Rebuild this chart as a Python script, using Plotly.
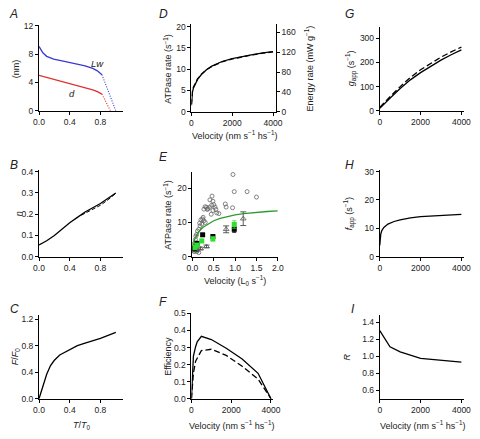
import plotly.graph_objects as go

W, H = 480, 439

# ---------------- data ----------------
# A
a_x_lw = [0.0, 0.05, 0.1, 0.19, 0.3, 0.4, 0.5, 0.6, 0.7, 0.76, 0.82]
a_lw = [9.1, 8.2, 7.7, 7.3, 7.05, 6.85, 6.6, 6.35, 6.0, 5.65, 5.1]
a_x_lw_dot = [0.82, 1.0]
a_lw_dot = [5.1, 0.0]
a_x_d = [0.0, 0.1, 0.2, 0.3, 0.4, 0.5, 0.6, 0.7, 0.76, 0.82]
a_d = [5.0, 4.7, 4.4, 4.1, 3.85, 3.6, 3.3, 2.95, 2.7, 2.35]
a_x_d_dot = [0.82, 0.93]
a_d_dot = [2.35, 0.0]

# B
b_x = [0.0, 0.1, 0.2, 0.3, 0.4, 0.5, 0.6, 0.7, 0.8, 0.9, 1.0]
b_n = [0.055, 0.075, 0.1, 0.13, 0.16, 0.185, 0.21, 0.23, 0.25, 0.275, 0.30]
b_x_dash = [0.55, 0.6, 0.7, 0.8, 0.9, 1.0]
b_n_dash = [0.195, 0.205, 0.222, 0.242, 0.268, 0.298]

# C
c_t = [0.0, 0.05, 0.1, 0.15, 0.2, 0.27, 0.4, 0.5, 0.6, 0.8, 1.0]
c_f = [0.0, 0.2, 0.37, 0.5, 0.58, 0.66, 0.74, 0.8, 0.84, 0.91, 1.0]

# D
d_v = [0, 25, 50, 100, 200, 300, 500, 750, 1000, 1500, 2000, 2500, 3000, 3500, 4000]
d_atp = [1.5, 3.5, 4.6, 5.6, 6.8, 7.6, 8.8, 9.9, 10.7, 11.8, 12.5, 13.0, 13.4, 13.8, 14.1]
d_atp_dash = [1.8, 3.8, 4.9, 5.8, 6.9, 7.7, 8.9, 9.9, 10.6, 11.7, 12.4, 12.95, 13.35, 13.75, 14.05]

# E
e_x_model = [0, 0.02, 0.05, 0.1, 0.18, 0.26, 0.4, 0.5, 0.65, 0.8, 1.0, 1.2, 1.5, 1.75, 2.0]
e_y_model = [1.5, 3.5, 5.0, 6.3, 7.8, 8.7, 9.9, 10.5, 11.2, 11.7, 12.2, 12.6, 13.0, 13.2, 13.4]
e_open_x = [0.95, 0.98, 1.28, 1.50, 0.94, 0.77, 0.79, 0.46, 0.41, 0.48, 0.50, 0.45, 0.40,
            0.36, 0.33, 0.30, 0.53, 0.48, 0.55, 0.57, 0.62, 0.44, 0.35, 0.27, 0.25, 0.24,
            0.27, 0.30, 0.22, 0.18, 0.15, 0.12, 0.10, 0.08, 0.07, 0.05, 0.03, 0.06, 0.08,
            0.10, 0.13, 0.04, 0.15, 0.02, 0.20, 0.17]
e_open_y = [24.0, 19.0, 19.0, 17.4, 14.3, 15.4, 14.5, 17.7, 16.6, 16.2, 15.2, 15.0, 14.4,
            14.0, 14.4, 14.6, 14.5, 13.5, 13.8, 12.8, 12.6, 12.4, 13.8, 13.9, 11.5, 11.0,
            10.5, 10.0, 9.5, 9.0, 8.0, 7.5, 6.5, 6.0, 5.0, 4.0, 3.0, 2.5, 2.0,
            1.5, 2.0, 1.5, 1.2, 2.0, 10.8, 9.8]
e_tri_x = [0.79, 1.19, 0.33, 0.19, 0.08]
e_tri_y = [8.0, 11.1, 3.0, 2.4, 1.8]
e_tri_err = [1.0, 2.0, 0.4, 0.4, 0.3]
e_blk_x = [0.05, 0.11, 0.24, 0.48, 0.98]
e_blk_y = [2.5, 3.9, 6.4, 5.9, 8.0]
e_blk_err = [0.3, 0.4, 0.4, 0.5, 0.9]
e_grn_x = [0.06, 0.11, 0.22, 0.48, 0.98]
e_grn_y = [2.7, 3.4, 4.6, 5.2, 9.4]
e_grn_err = [0.3, 0.4, 0.5, 0.6, 1.1]

# F
f_v = [0, 100, 210, 290, 500, 1000, 1750, 2550, 3350, 4000]
f_eff = [0.0, 0.25, 0.305, 0.334, 0.366, 0.347, 0.296, 0.233, 0.149, 0.0]
f_v_dash = [0, 100, 210, 500, 1000, 1750, 2550, 3350, 4000]
f_eff_dash = [0.0, 0.15, 0.22, 0.282, 0.29, 0.254, 0.19, 0.115, 0.0]

# G
g_v = [0, 250, 500, 1000, 1500, 2000, 2500, 3000, 3500, 4000]
g_app = [10, 32, 52, 92, 128, 158, 185, 210, 232, 252]
g_app_dash = [14, 37, 58, 100, 138, 170, 197, 222, 244, 264]

# H
h_v = [0, 20, 50, 100, 200, 400, 700, 1000, 1500, 2000, 3000, 4000]
h_f = [4.0, 6.5, 8.0, 9.2, 10.3, 11.5, 12.4, 13.0, 13.7, 14.1, 14.6, 14.9]

# I
i_v = [0, 250, 500, 1000, 2000, 4000]
i_r = [1.30, 1.20, 1.11, 1.05, 0.975, 0.93]

# ---------------- layout helpers ----------------
def px(x):
    return x / W

def py(y):
    return 1 - y / H

TICKFONT = dict(family="Liberation Sans, Arial, sans-serif", size=8.5, color="#222")
TITLEFONT = dict(family="Liberation Sans, Arial, sans-serif", size=9, color="#222")

def axis(domain, rng, tickvals, ticktext, anchor):
    return dict(domain=domain, range=rng, tickvals=tickvals, ticktext=ticktext,
                showline=True, linecolor="black", linewidth=1, ticks="outside",
                ticklen=3, tickwidth=1, tickcolor="black", showgrid=False,
                zeroline=False, tickfont=TICKFONT, anchor=anchor, fixedrange=True)

fig = go.Figure()
layout = {}

GX = (385, 472)
panels = {
    1: ((34, 121), (109, 21.7), [0, 1.1], [0, 12.1],
        ([0, 0.4, 0.8], ["0.0", "0.4", "0.8"]), ([0, 4, 8, 12], ["0", "4", "8", "12"])),
    2: ((34, 121), (258, 169), [0, 1.1], [0, 0.41],
        ([0, 0.4, 0.8], ["0.0", "0.4", "0.8"]),
        ([0, 0.1, 0.2, 0.3, 0.4], ["0.0", "0.1", "0.2", "0.3", "0.4"])),
    3: ((34, 121), (403, 317), [0, 1.1], [0, 1.27],
        ([0, 0.4, 0.8], ["0.0", "0.4", "0.8"]),
        ([0, 0.4, 0.8, 1.2], ["0.0", "0.4", "0.8", "1.2"])),
    4: ((191, 278), (110, 20), [0, 4140], [0, 20.7],
        ([0, 2000, 4000], ["0", "2000", "4000"]), ([0, 5, 10, 15, 20], ["0", "5", "10", "15", "20"])),
    5: ((192, 280), (258, 172), [0, 2.0], [0, 24.6],
        ([0, 0.5, 1.0, 1.5, 2.0], ["0.0", "0.5", "1.0", "1.5", "2.0"]),
        ([0, 10, 20], ["0", "10", "20"])),
    6: ((191, 275), (403, 315), [0, 4100], [0, 0.505],
        ([0, 2000, 4000], ["0", "2000", "4000"]),
        ([0, 0.1, 0.2, 0.3, 0.4, 0.5], ["0.0", "0.1", "0.2", "0.3", "0.4", "0.5"])),
    7: (GX, (109, 23), [0, 4140], [0, 349],
        ([0, 2000, 4000], ["0", "2000", "4000"]), ([0, 100, 200, 300], ["0", "100", "200", "300"])),
    8: (GX, (258, 169), [0, 4140], [0, 30.7],
        ([0, 2000, 4000], ["0", "2000", "4000"]), ([0, 10, 20, 30], ["0", "10", "20", "30"])),
    9: (GX, (403, 317), [0, 4140], [0.5, 1.49],
        ([0, 2000, 4000], ["0", "2000", "4000"]),
        ([0.6, 0.8, 1.0, 1.2, 1.4], ["0.6", "0.8", "1.0", "1.2", "1.4"])),
}

for k, (xpx, ypx, xr, yr, xt, yt) in panels.items():
    xn = "xaxis" if k == 1 else f"xaxis{k}"
    yn = "yaxis" if k == 1 else f"yaxis{k}"
    xa = "x" if k == 1 else f"x{k}"
    ya = "y" if k == 1 else f"y{k}"
    layout[xn] = axis([px(xpx[0]), px(xpx[1])], xr, xt[0], xt[1], ya)
    layout[yn] = axis([py(ypx[0]), py(ypx[1])], yr, yt[0], yt[1], xa)

# right axis of D (energy rate)
layout["yaxis10"] = axis([py(110), py(20)], [0, 178], [0, 40, 80, 120, 160],
                         ["0", "40", "80", "120", "160"], "x4")
layout["yaxis10"].update(overlaying="y4", side="right")

LW = 1.3
def line(x, y, xa, ya, color="black", dash="solid", width=LW):
    fig.add_trace(go.Scatter(x=x, y=y, xaxis=xa, yaxis=ya, mode="lines",
                             line=dict(color=color, dash=dash, width=width),
                             showlegend=False, hoverinfo="skip"))

BLUE = "#3a3ad6"
RED = "#e23030"
# A
line(a_x_lw, a_lw, "x", "y", BLUE)
line(a_x_lw_dot, a_lw_dot, "x", "y", BLUE, "1px,1.5px", 1.1)
line(a_x_d, a_d, "x", "y", RED)
line(a_x_d_dot, a_d_dot, "x", "y", RED, "1px,1.5px", 1.1)
# B
line(b_x, b_n, "x2", "y2")
line(b_x_dash, b_n_dash, "x2", "y2", dash="4px,2px", width=1.0)
# C
line(c_t, c_f, "x3", "y3")
# D
line(d_v, d_atp, "x4", "y4")
line(d_v, d_atp_dash, "x4", "y4", dash="5px,3px")
# E
fig.add_trace(go.Scatter(x=e_open_x, y=e_open_y, xaxis="x5", yaxis="y5", mode="markers",
                         marker=dict(symbol="circle-open", size=4, color="#666",
                                     line=dict(width=0.8)),
                         showlegend=False, hoverinfo="skip", cliponaxis=False))
fig.add_trace(go.Scatter(x=e_tri_x, y=e_tri_y, xaxis="x5", yaxis="y5", mode="markers",
                         marker=dict(symbol="triangle-up-open", size=5, color="#555",
                                     line=dict(width=0.8)),
                         error_y=dict(type="data", array=e_tri_err, color="#333",
                                      thickness=0.8, width=3),
                         showlegend=False, hoverinfo="skip", cliponaxis=False))
line(e_x_model, e_y_model, "x5", "y5", "#2e9a2e", width=1.3)
fig.add_trace(go.Scatter(x=e_blk_x, y=e_blk_y, xaxis="x5", yaxis="y5", mode="markers",
                         marker=dict(symbol="square", size=5, color="black"),
                         error_y=dict(type="data", array=e_blk_err, color="black",
                                      thickness=0.8, width=2),
                         showlegend=False, hoverinfo="skip", cliponaxis=False))
fig.add_trace(go.Scatter(x=e_grn_x, y=e_grn_y, xaxis="x5", yaxis="y5", mode="markers",
                         marker=dict(symbol="square", size=5, color="#2fe02f"),
                         error_y=dict(type="data", array=e_grn_err, color="#2fe02f",
                                      thickness=0.8, width=2),
                         showlegend=False, hoverinfo="skip", cliponaxis=False))
# F
line(f_v, f_eff, "x6", "y6")
line(f_v_dash, f_eff_dash, "x6", "y6", dash="6px,3px")
# G
line(g_v, g_app, "x7", "y7")
line(g_v, g_app_dash, "x7", "y7", dash="6px,3px")
# H
line(h_v, h_f, "x8", "y8")
# I
line(i_v, i_r, "x9", "y9")

# invisible trace to register right axis
fig.add_trace(go.Scatter(x=[0], y=[0], xaxis="x4", yaxis="y10", mode="markers",
                         marker=dict(opacity=0), showlegend=False, hoverinfo="skip"))

ann = []
def text(t, x, y, rot=0, size=9, xanchor="center", yanchor="middle"):
    ann.append(dict(text=t, x=px(x), y=py(y), xref="paper", yref="paper",
                    showarrow=False, textangle=rot, xanchor=xanchor, yanchor=yanchor,
                    font=dict(TITLEFONT, size=size)))

# panel letters
for lab, (x, y) in {"A": (1, 1), "B": (2, 155), "C": (2, 302), "D": (156, 1), "E": (156, 147),
                    "F": (156, 295), "G": (347, 1), "H": (347, 155), "I": (353, 302)}.items():
    text(f"<i>{lab}</i>", x, y, size=12, xanchor="left", yanchor="top")

sup = "<sup>\u22121</sup>"
text("(nm)", 10, 66, -90)
text("<i>n</i>", 13, 214, -90)
text("<i>F</i>/<i>F</i><sub>0</sub>", 10, 360, -90)
text("<i>T</i>/<i>T</i><sub>0</sub>", 78, 438, yanchor="bottom")
text(f"ATPase rate (s{sup})", 166, 66, -90)
text(f"Energy rate (mW g{sup})", 312, 66, -90)
text(f"Velocity (nm s{sup} hs{sup})", 235, 142, yanchor="bottom")
text(f"ATPase rate (s{sup})", 166, 215, -90)
text("Velocity (L<sub>0</sub> s" + sup + ")", 236, 291, yanchor="bottom")
text("Efficiency", 166, 360, -90)
text(f"Velocity (nm s{sup} hs{sup})", 232, 438, yanchor="bottom")
text(f"<i>g</i><sub>app</sub> (s{sup})", 355, 66, -90)
text(f"<i>f</i><sub>app</sub> (s{sup})", 353, 214, -90)
text("<i>R</i>", 351, 360, -90)
text(f"Velocity (nm s{sup} hs{sup})", 429, 438, yanchor="bottom")

# in-plot labels for panel A
for t, x, y in [("<i>Lw</i>", 0.76, 6.7), ("<i>d</i>", 0.43, 2.5)]:
    ann.append(dict(text=t, x=x, y=y, xref="x", yref="y", showarrow=False,
                    font=dict(TITLEFONT, size=9.5)))

layout.update(width=W, height=H, margin=dict(l=0, r=0, t=0, b=0),
              paper_bgcolor="white", plot_bgcolor="white", annotations=ann,
              showlegend=False, hovermode=False)
fig.update_layout(**layout)
fig.write_html("out.html",
               config={"displayModeBar": False, "staticPlot": True},
               post_script="document.body.style.margin='0px';"
                           "document.documentElement.style.margin='0px';"
                           "document.body.style.overflow='hidden';")
